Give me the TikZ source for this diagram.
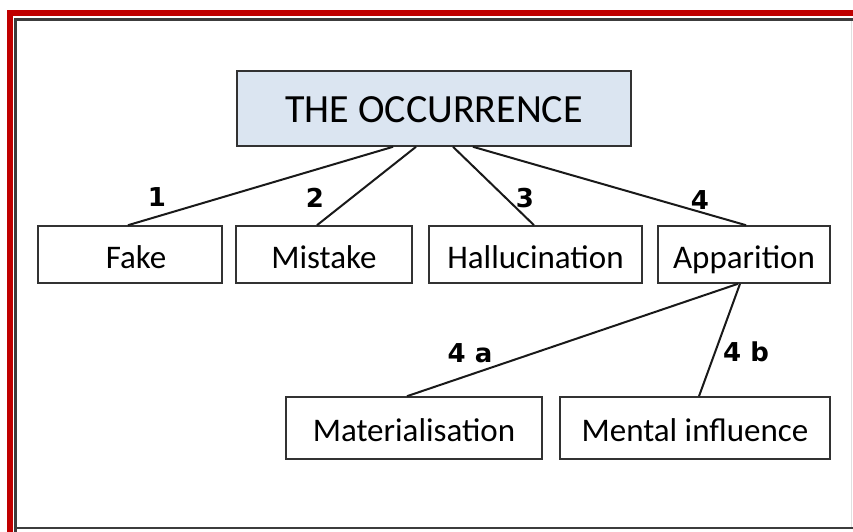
\documentclass[tikz,border=0pt]{standalone}
\usepackage{fontspec}
\setmainfont{Carlito}
\newfontfamily\lblfont{DejaVu Sans}
\usetikzlibrary{calc}
\definecolor{framered}{RGB}{192,0,0}
\definecolor{framedark}{RGB}{60,60,60}
\definecolor{boxedge}{RGB}{50,50,50}
\definecolor{topfill}{RGB}{219,229,241}
\tikzset{
  box/.style={draw=boxedge, line width=1.6pt, fill=white, inner sep=0pt,
    text height=30pt, text depth=3pt, font=\fontsize{33}{36}\selectfont},
  topbox/.style={box, fill=topfill, text height=32pt, text depth=3pt, font=\fontsize{40}{44}\selectfont},
  link/.style={draw=black!90, line width=2pt},
  lbl/.style={font=\lblfont\bfseries\fontsize{26}{28}\selectfont, inner sep=0pt}
}
\begin{document}
\begin{tikzpicture}[x=1pt,y=-1pt]
\useasboundingbox (0,0) rectangle (853,532);
\fill[white] (0,0) rectangle (853,532);
% frame
\fill[framered] (7,10) rectangle (853,16);
\fill[framered] (7,10) rectangle (13,532);
\draw[framedark, line width=2.5pt] (15.5,532) -- (15.5,19.5) -- (853,19.5);
\draw[framedark, line width=2.5pt] (15.5,528) -- (853,528);
\draw[black!12, line width=1pt] (851,21) -- (851,527);
% nodes
\node[topbox, minimum width=394, minimum height=75] (top) at (434,108.5) {THE OCCURRENCE};
\node[box, minimum width=184, minimum height=57] (fake) at (130,254.5) {\hspace*{12pt}Fake};
\node[box, minimum width=176, minimum height=57] (mistake) at (324,254.5) {Mistake};
\node[box, minimum width=213, minimum height=57] (hall) at (535.5,254.5) {Hallucination};
\node[box, minimum width=172, minimum height=57] (app) at (744,254.5) {Apparition};
\node[box, minimum width=256, minimum height=62] (mat) at (414,428) {Materialisation};
\node[box, minimum width=270, minimum height=62] (men) at (695,428) {Mental influence};
% connectors
\draw[link] ($(top.south)+(-41,0)$) -- ($(fake.north)+(-2,0)$);
\draw[link] ($(top.south)+(-18,0)$) -- ($(mistake.north)+(-7,0)$);
\draw[link] ($(top.south)+(19,0)$) -- ($(hall.north)+(-1.5,0)$);
\draw[link] ($(top.south)+(39,0)$) -- ($(app.north)+(2,0)$);
\draw[link] ($(app.south)+(-6,0)$) -- ($(mat.north)+(-7,0)$);
\draw[link] ($(app.south)+(-4,0)$) -- ($(men.north)+(4,0)$);
% labels
\node[lbl] (l1) at (157,197) {1};
\node[lbl] (l2) at (315,198) {2};
\node[lbl] (l3) at (525,198) {3};
\node[lbl] (l4) at (700,200) {4};
\node[lbl] (l4a) at (470,353) {4 a};
\node[lbl] (l4b) at (746,352) {4 b};
\end{tikzpicture}
\end{document}
